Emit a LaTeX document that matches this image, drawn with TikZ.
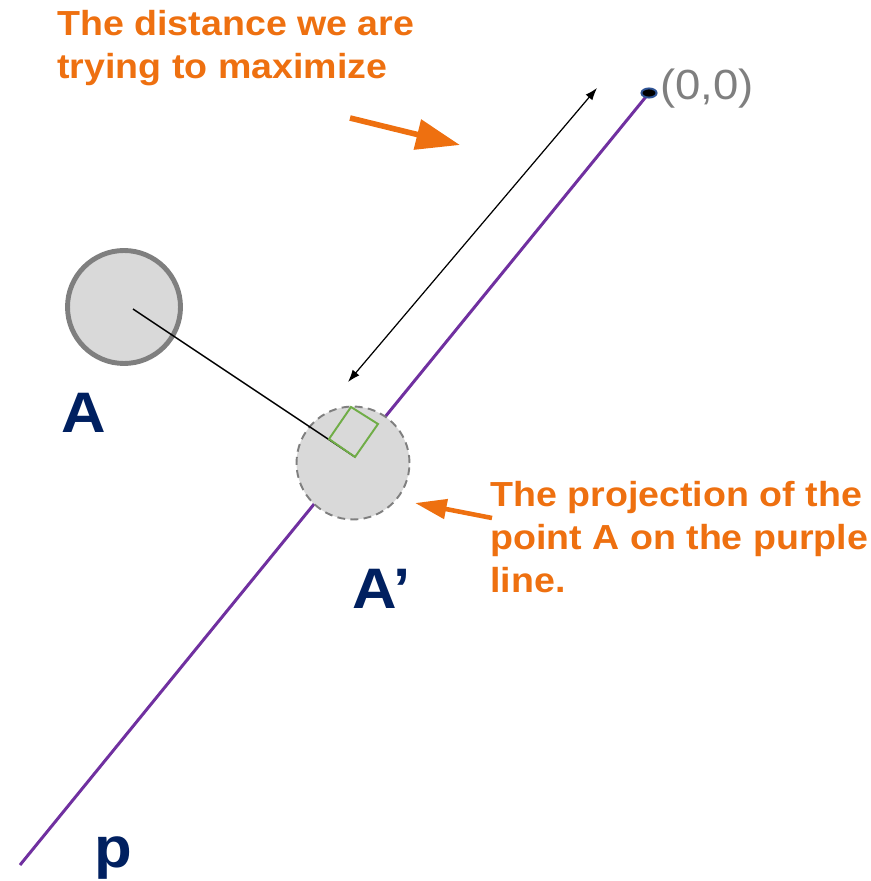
\documentclass[tikz,border=0pt]{standalone}
\usepackage{fontspec}
\setmainfont{Liberation Sans}[FakeStretch=1.08]
\usetikzlibrary{arrows.meta}
\definecolor{projpurple}{RGB}{112,48,160}
\definecolor{noteorange}{RGB}{238,112,16}
\definecolor{labelnavy}{RGB}{0,32,96}
\definecolor{ringgray}{RGB}{127,127,127}
\definecolor{discgray}{RGB}{217,217,217}
\definecolor{anglegreen}{RGB}{112,173,71}
\begin{document}
\begin{tikzpicture}[x=0.02cm, y=-0.02cm,
    every node/.style={inner sep=0pt},
    note/.style={font=\bfseries\fontsize{19.8}{24.4}\selectfont, text=noteorange, align=left},
    ptlabel/.style={font=\bfseries\fontsize{32.5}{36}\selectfont, text=labelnavy},
    pointer/.style={draw=noteorange, line width=3.2pt, -{Triangle[length=25pt, width=17pt]}}]
  \useasboundingbox (0,0) rectangle (870,881);
  % the purple line through the origin
  \coordinate (origin) at (649,93);
  \coordinate (pend) at (20,865);
  \draw[projpurple, line width=1.7pt] (pend) -- (origin);
  \draw[fill=black, draw={rgb,255:red,47;green,84;blue,150}, line width=1.1pt] (origin) ellipse [x radius=4.3pt, y radius=2.6pt];
  \node[anchor=west, text=ringgray, font=\fontsize{24}{27}\selectfont] (zerolabel) at (660,89) {(0,0)};
  % point A and its projection A'
  \node[circle, draw=ringgray, fill=discgray, line width=2.8pt, minimum size=2.26cm] (A) at (124,307) {};
  \node[circle, draw=ringgray, fill=discgray, line width=1.1pt, dash pattern=on 4.5pt off 3pt, minimum size=2.26cm] (Aproj) at (353,463) {};
  \coordinate (src) at (133,309);
  \coordinate (foot) at (355,457);
  \draw[line width=0.8pt] (src) -- (foot);
  \draw[anglegreen, line width=1.1pt] (foot) -- (329,439) -- (351,407) -- (378,424) -- cycle;
  % the distance along the line
  \coordinate (distlo) at (348,382);
  \coordinate (disthi) at (597,88);
  \draw[line width=0.7pt, {Latex[length=7pt, width=5pt]}-{Latex[length=7pt, width=5pt]}] (distlo) -- (disthi);
  % labels
  \node[ptlabel, anchor=south west] (labelA) at (61,433) {A};
  \node[ptlabel, anchor=south west] (labelAproj) at (352,609) {A’};
  \node[ptlabel, anchor=base west] (labelp) at (94,867) {p};
  % notes
  \node[note, anchor=north west] (topnote) at (57,10) {The distance we are\\trying to maximize};
  \node[note, anchor=north west] (sidenote) at (490,481) {The projection of the\\point A on the purple\\line.};
  \coordinate (tailone) at (350,118);
  \coordinate (tipone) at (460,145);
  \draw[pointer] (tailone) -- (tipone);
  \coordinate (tailtwo) at (492,518);
  \coordinate (tiptwo) at (415,503);
  \draw[pointer, line width=2.6pt, -{Triangle[length=18pt, width=11pt]}] (tailtwo) -- (tiptwo);
\end{tikzpicture}
\end{document}
